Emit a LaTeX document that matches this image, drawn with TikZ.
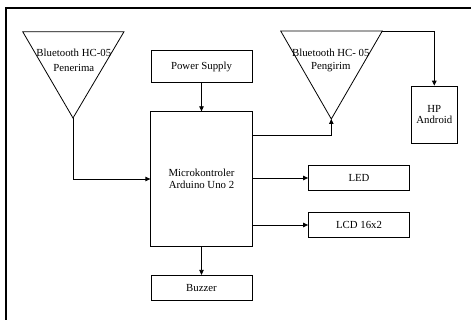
\documentclass[tikz,border=0pt]{standalone}
\usepackage{fontspec}
\setmainfont{Liberation Serif}
\usetikzlibrary{arrows.meta}
\begin{document}
\begin{tikzpicture}[x=1pt,y=-1pt,
  blk/.style={draw=black,line width=0.8pt,inner sep=0pt,align=center},
  lbl/.style={inner sep=0pt,align=center},
  conn/.style={draw=black,line width=0.8pt},
  arr/.style={conn,-{Triangle[length=5pt,width=4.5pt]}},
  every node/.append style={font=\fontsize{10.8}{11.6}\selectfont}]
\useasboundingbox (0,0) rectangle (471,320);
% frame (top and left sides)
\draw[line width=2pt] (6,320) -- (6,8) -- (471,8);
% triangles
\coordinate (ltl) at (22.7,31.7);
\coordinate (ltr) at (124,31.7);
\coordinate (lapex) at (73,118);
\draw[conn] (ltl) -- (ltr) -- (lapex) -- cycle;
\node[lbl] (lt1) at (73.8,53) {Bluetooth HC-05};
\node[lbl] (lt2) at (73.8,68) {Penerima};
\coordinate (rtl) at (280.7,31);
\coordinate (rtr) at (382.3,31);
\coordinate (rapex) at (331.3,119);
\draw[conn] (rtl) -- (rtr) -- (rapex) -- cycle;
\node[lbl] (rt1) at (330.8,53) {Bluetooth HC- 05};
\node[lbl] (rt2) at (330.8,67) {Pengirim};
% boxes
\node[blk,minimum width=101pt,minimum height=32pt] (ps) at (201.5,66.7) {Power Supply};
\node[blk,minimum width=101.5pt,minimum height=134.5pt] (mc) at (201.5,179) {};
\node[lbl] (mct) at (201.5,179) {Microkontroler\\Arduino Uno 2};
\node[blk,minimum width=101pt,minimum height=24.6pt] (led) at (359,178) {LED};
\node[blk,minimum width=101pt,minimum height=24.6pt] (lcd) at (359,225) {LCD 16x2};
\node[blk,minimum width=101pt,minimum height=25pt] (bz) at (201.5,287.8) {Buzzer};
\node[blk,minimum width=46.7pt,minimum height=57.3pt] (hp) at (434.3,114.7) {HP\\Android};
% connectors
\draw[arr] (ps.south) -- (mc.north);
\draw[arr] (lapex) |- (mc.west);
\coordinate (mo) at (252.25,135.7);
\draw[arr] (mo) -| (rapex);
\draw[arr] (mc.east |- led.west) -- (led.west);
\draw[arr] (mc.east |- lcd.west) -- (lcd.west);
\draw[arr] (mc.south) -- (bz.north);
\draw[arr] (rtr) -| (hp.north);
\end{tikzpicture}
\end{document}
